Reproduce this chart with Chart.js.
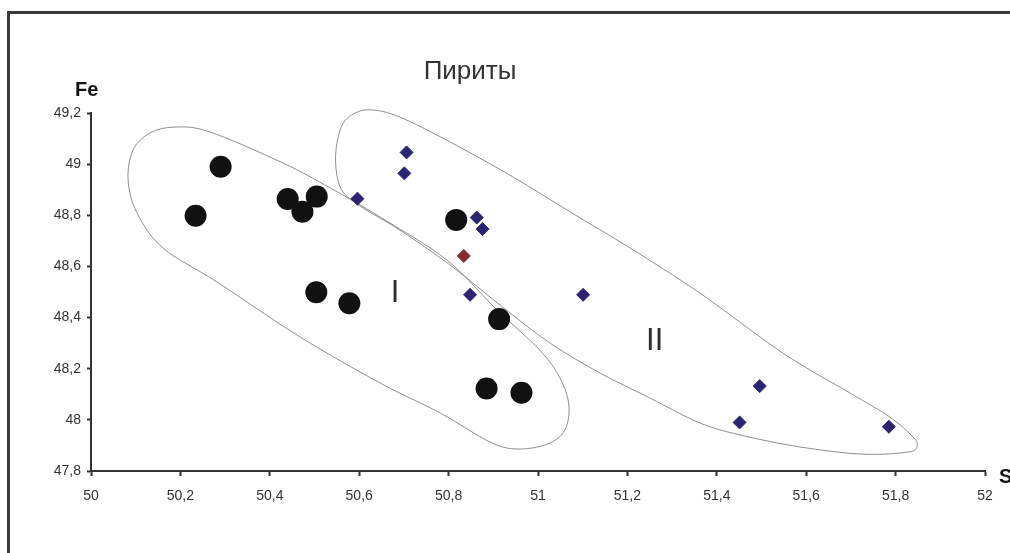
<!DOCTYPE html>
<html>
<head>
<meta charset="utf-8">
<script src="https://cdn.jsdelivr.net/npm/chart.js@4/dist/chart.umd.min.js"></script>
<style>
  html, body { margin: 0; padding: 0; background: #fff; }
  #wrap { width: 1010px; height: 553px; position: relative; }
</style>
</head>
<body>
<div id="wrap"><canvas id="c" width="1010" height="553"></canvas></div>
<script>
// ---- Data ----
const chartTitle = 'Пириты';
const xAxisLabel = 'S';
const yAxisLabel = 'Fe';

const xTickValues = [50, 50.2, 50.4, 50.6, 50.8, 51, 51.2, 51.4, 51.6, 51.8, 52];
const xTickLabels = ['50', '50,2', '50,4', '50,6', '50,8', '51', '51,2', '51,4', '51,6', '51,8', '52'];
const yTickValues = [47.8, 48, 48.2, 48.4, 48.6, 48.8, 49, 49.2];
const yTickLabels = ['47,8', '48', '48,2', '48,4', '48,6', '48,8', '49', '49,2'];

// Group I (black circles)
const groupI_S  = [50.234, 50.290, 50.440, 50.473, 50.505, 50.504, 50.578, 50.817, 50.913, 50.885, 50.963];
const groupI_Fe = [48.798, 48.990, 48.864, 48.814, 48.873, 48.499, 48.456, 48.782, 48.394, 48.123, 48.106];

// Group II (blue diamonds)
const groupII_S  = [50.706, 50.701, 50.596, 50.863, 50.876, 50.848, 51.101, 51.496, 51.451, 51.785];
const groupII_Fe = [49.046, 48.964, 48.865, 48.791, 48.746, 48.489, 48.489, 48.132, 47.990, 47.973];

// Single red diamond
const redS  = [50.834];
const redFe = [48.641];

// Outline of field I (S, Fe)
const outlineI_S  = [50.083, 50.094, 50.132, 50.188, 50.266, 50.430, 50.535, 50.647, 50.796, 50.908, 51.004, 51.049, 51.069, 51.060, 51.022, 50.955, 50.893, 50.781, 50.647, 50.468, 50.282, 50.161, 50.103];
const outlineI_Fe = [48.938, 49.055, 49.122, 49.145, 49.126, 49.004, 48.907, 48.793, 48.625, 48.430, 48.273, 48.164, 48.058, 47.960, 47.906, 47.886, 47.913, 48.027, 48.144, 48.324, 48.539, 48.672, 48.809];

// Outline of field II (S, Fe)
const outlineII_S  = [50.550, 50.548, 50.562, 50.591, 50.629, 50.691, 50.803, 50.944, 51.072, 51.206, 51.362, 51.548, 51.698, 51.787, 51.839, 51.848, 51.828, 51.725, 51.586, 51.452, 51.362, 51.251, 51.139, 51.027, 50.915, 50.803, 50.691, 50.602, 50.564];
const outlineII_Fe = [48.958, 49.055, 49.153, 49.200, 49.212, 49.184, 49.087, 48.950, 48.813, 48.672, 48.496, 48.261, 48.105, 48.011, 47.933, 47.898, 47.874, 47.866, 47.894, 47.941, 47.988, 48.085, 48.183, 48.300, 48.449, 48.606, 48.742, 48.836, 48.891];

// Field labels
const fieldLabels = ['I', 'II'];
const fieldLabelS  = [50.680, 51.261];
const fieldLabelFe = [48.504, 48.314];

// Title anchor (data units)
const titleS = 50.848;
const titleFe = 49.333;

const zip = (xs, ys) => xs.map((x, i) => ({ x: x, y: ys[i] }));

const FONT = '"Liberation Sans", Arial, sans-serif';
const TEXT = '#333333';

const decorPlugin = {
  id: 'decor',
  beforeDraw(chart) {
    const ctx = chart.ctx;
    ctx.save();
    ctx.fillStyle = '#ffffff';
    ctx.fillRect(0, 0, chart.width, chart.height);
    // frame
    ctx.strokeStyle = '#3a3a3a';
    ctx.lineWidth = 3;
    ctx.beginPath();
    ctx.moveTo(8.5, chart.height + 2);
    ctx.lineTo(8.5, 12.5);
    ctx.lineTo(chart.width + 2, 12.5);
    ctx.stroke();
    ctx.restore();
  },
  beforeDatasetsDraw(chart) {
    const ctx = chart.ctx;
    const xs = chart.scales.x, ys = chart.scales.y;
    const drawClosed = (S, F) => {
      const p = S.map((s, i) => [xs.getPixelForValue(s), ys.getPixelForValue(F[i])]);
      const n = p.length;
      ctx.beginPath();
      ctx.moveTo(p[0][0], p[0][1]);
      for (let i = 0; i < n; i++) {
        const p0 = p[(i - 1 + n) % n], p1 = p[i], p2 = p[(i + 1) % n], p3 = p[(i + 2) % n];
        const c1x = p1[0] + (p2[0] - p0[0]) / 6, c1y = p1[1] + (p2[1] - p0[1]) / 6;
        const c2x = p2[0] - (p3[0] - p1[0]) / 6, c2y = p2[1] - (p3[1] - p1[1]) / 6;
        ctx.bezierCurveTo(c1x, c1y, c2x, c2y, p2[0], p2[1]);
      }
      ctx.closePath();
      ctx.stroke();
    };
    ctx.save();
    ctx.strokeStyle = '#8f8f8f';
    ctx.lineWidth = 1;
    drawClosed(outlineI_S, outlineI_Fe);
    drawClosed(outlineII_S, outlineII_Fe);

    // field labels
    ctx.fillStyle = '#2e2e2e';
    ctx.font = '300 31px ' + FONT;
    ctx.textAlign = 'center';
    ctx.textBaseline = 'middle';
    fieldLabels.forEach((t, i) => {
      ctx.fillText(t, xs.getPixelForValue(fieldLabelS[i]), ys.getPixelForValue(fieldLabelFe[i]) + 2);
    });

    // title
    ctx.fillStyle = TEXT;
    ctx.font = '26px ' + FONT;
    ctx.textBaseline = 'alphabetic';
    ctx.fillText(chartTitle, xs.getPixelForValue(titleS), ys.getPixelForValue(titleFe));

    // axis names
    const ca = chart.chartArea;
    ctx.fillStyle = '#111';
    ctx.font = 'bold 20px ' + FONT;
    ctx.textAlign = 'left';
    ctx.fillText(yAxisLabel, ca.left - 16, ca.top - 17);
    ctx.fillText(xAxisLabel, ca.right + 14, ca.bottom + 12);
    ctx.restore();
  }
};

new Chart(document.getElementById('c'), {
  type: 'scatter',
  data: {
    datasets: [
      {
        label: 'I',
        data: zip(groupI_S, groupI_Fe),
        pointStyle: 'circle',
        pointRadius: 11,
        pointBorderWidth: 0,
        backgroundColor: '#111111',
        borderColor: '#111111'
      },
      {
        label: 'II',
        data: zip(groupII_S, groupII_Fe),
        pointStyle: 'rectRot',
        pointRadius: 6.5,
        pointBorderWidth: 1,
        backgroundColor: '#2b2472',
        borderColor: '#2b2472'
      },
      {
        label: 'red',
        data: zip(redS, redFe),
        pointStyle: 'rectRot',
        pointRadius: 6.5,
        pointBorderWidth: 1,
        backgroundColor: '#8a2a2a',
        borderColor: '#8a2a2a'
      }
    ]
  },
  options: {
    responsive: false,
    animation: false,
    devicePixelRatio: 1,
    layout: { padding: { top: 113, right: 25, left: 0, bottom: 0 } },
    plugins: { legend: { display: false }, tooltip: { enabled: false }, title: { display: false } },
    scales: {
      x: {
        type: 'linear',
        min: 50, max: 52,
        afterBuildTicks: (axis) => { axis.ticks = xTickValues.map(v => ({ value: v })); },
        afterFit: (scale) => { scale.height = 82; },
        ticks: {
          autoSkip: false,
          maxRotation: 0,
          padding: 12,
          color: TEXT,
          font: { family: FONT, size: 14 },
          callback: (v, i) => xTickLabels[i]
        },
        grid: { drawOnChartArea: false, drawTicks: true, tickLength: 5, tickColor: '#333', tickWidth: 2 },
        border: { display: true, color: '#333', width: 2 }
      },
      y: {
        type: 'linear',
        min: 47.8, max: 49.2,
        afterBuildTicks: (axis) => { axis.ticks = yTickValues.map(v => ({ value: v })); },
        afterFit: (scale) => { scale.width = 91; },
        ticks: {
          autoSkip: false,
          padding: 6,
          color: TEXT,
          font: { family: FONT, size: 14 },
          callback: (v, i) => yTickLabels[i]
        },
        grid: { drawOnChartArea: false, drawTicks: true, tickLength: 4, tickColor: '#333', tickWidth: 2 },
        border: { display: true, color: '#333', width: 2 }
      }
    }
  },
  plugins: [decorPlugin]
});
</script>
</body>
</html>
